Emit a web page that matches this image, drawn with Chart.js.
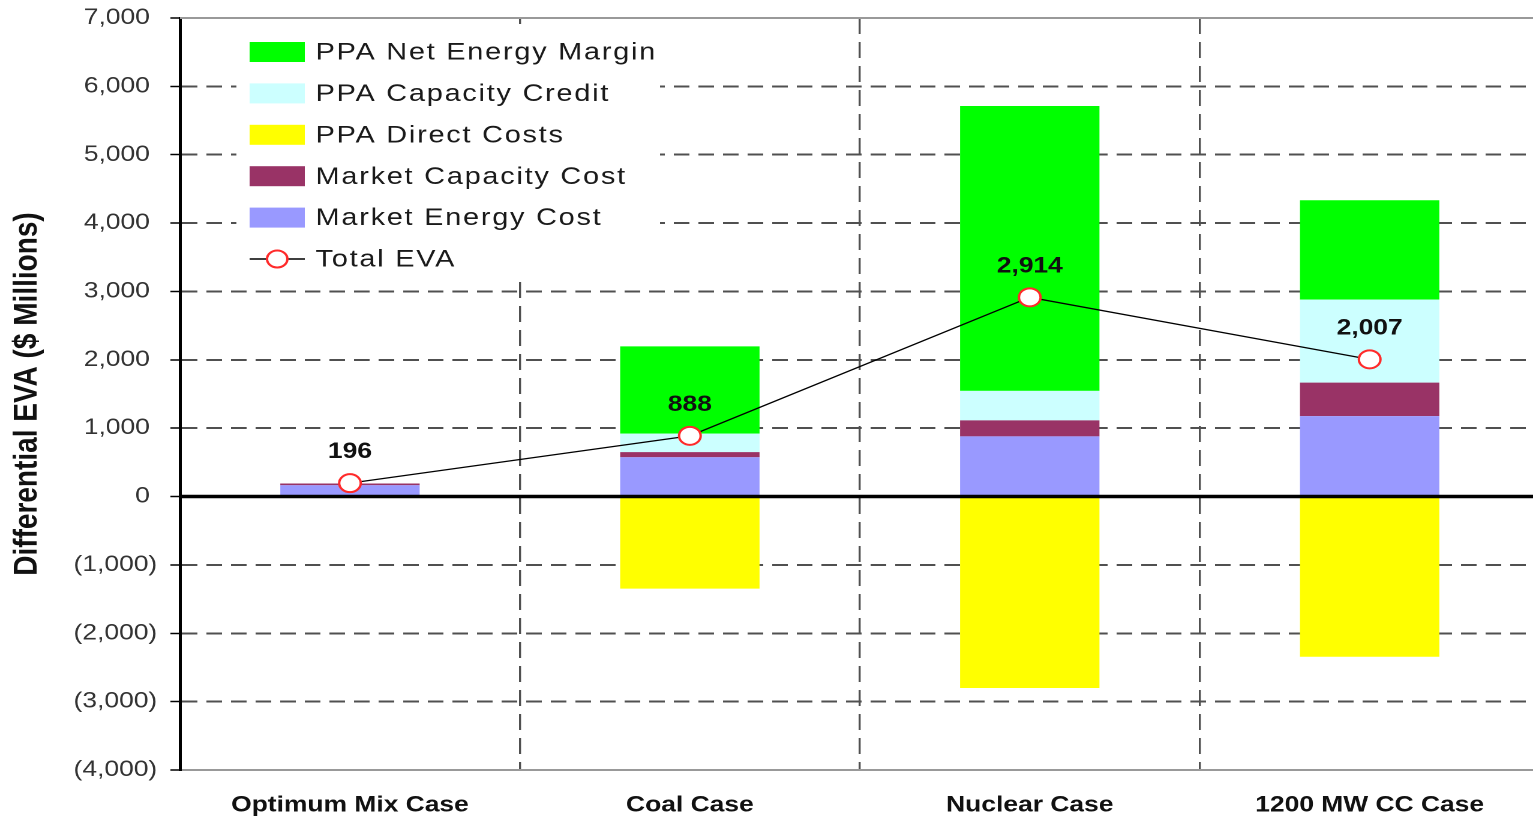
<!DOCTYPE html>
<html>
<head>
<meta charset="utf-8">
<script src="https://cdn.jsdelivr.net/npm/chart.js@4.4.1/dist/chart.umd.min.js"></script>
<style>
    html, body { margin: 0; padding: 0; background: #fff; overflow: hidden; }
    #wrap { width: 1288px; height: 816px; transform: scaleX(1.2); transform-origin: 0 0; }
</style>
</head>
<body>
<div id="wrap"><canvas id="evaChart" width="1288" height="816"></canvas></div>
<script>
const categories = ["Optimum Mix Case", "Coal Case", "Nuclear Case", "1200 MW CC Case"];
const marketEnergyCost = [165, 575, 880, 1176];
const marketCapacityCost = [25, 75, 235, 490];
const ppaCapacityCredit = [0, 270, 430, 1215];
const ppaNetEnergyMargin = [0, 1276, 4168, 1454];
const ppaDirectCosts = [0, -1347, -2800, -2343];
const totalEva = [196, 888, 2914, 2007];

// legend rows top to bottom, as dataset indexes
const legendOrder = [3, 2, 4, 1, 0, 5];

function fmt(v) {
    const s = Math.abs(v).toLocaleString("en-US");
    return v < 0 ? "(" + s + ")" : s + " ";
}

const extras = {
    id: "extras",
    afterDatasetsDraw(chart) {
        const ctx = chart.ctx;
        const area = chart.chartArea;
        const y = chart.scales.y;
        ctx.save();
        // solid frame top
        ctx.strokeStyle = "#999";
        ctx.lineWidth = 2;
        ctx.beginPath();
        ctx.moveTo(area.left, area.top);
        ctx.lineTo(area.right, area.top);
        ctx.stroke();
        // zero line
        const y0 = y.getPixelForValue(0);
        ctx.strokeStyle = "#000";
        ctx.lineWidth = 3.5;
        ctx.beginPath();
        ctx.moveTo(area.left, y0);
        ctx.lineTo(area.right, y0);
        ctx.stroke();
        // EVA value labels
        const meta = chart.getDatasetMeta(5);
        ctx.fillStyle = "#111";
        ctx.font = "bold 22px 'Liberation Sans', Arial, sans-serif";
        ctx.textAlign = "center";
        ctx.textBaseline = "middle";
        meta.data.forEach(function (pt, i) {
            ctx.fillText(totalEva[i].toLocaleString("en-US"), pt.x, pt.y - 31);
        });
        ctx.restore();
    },
    afterDraw(chart) {
        const ctx = chart.ctx;
        ctx.save();
        ctx.fillStyle = "#fff";
        ctx.fillRect(197, 24, 353, 258);
        ctx.font = "24px 'Liberation Sans', Arial, sans-serif";
        ctx.letterSpacing = "1.5px";
        ctx.textBaseline = "middle";
        legendOrder.forEach(function (idx, row) {
            const ds = chart.data.datasets[idx];
            const cy = 52 + row * 41.4;
            if (ds.type === "line") {
                ctx.strokeStyle = "#000";
                ctx.lineWidth = 1.5;
                ctx.beginPath();
                ctx.moveTo(208, cy);
                ctx.lineTo(254, cy);
                ctx.stroke();
                ctx.fillStyle = "#fff";
                ctx.strokeStyle = "#ff2a2a";
                ctx.lineWidth = 2;
                ctx.beginPath();
                ctx.arc(231, cy, 8.5, 0, Math.PI * 2);
                ctx.fill();
                ctx.stroke();
            } else {
                ctx.fillStyle = ds.backgroundColor;
                ctx.fillRect(208, cy - 10, 46, 20);
            }
            ctx.fillStyle = "#1a1a1a";
            ctx.fillText(ds.label, 263, cy + 1);
        });
        ctx.letterSpacing = "0px";
        ctx.restore();
    }
};

const ctx = document.getElementById("evaChart").getContext("2d");

new Chart(ctx, {
    type: "bar",
    data: {
        labels: categories,
        datasets: [
            { label: "Market Energy Cost", data: marketEnergyCost, backgroundColor: "#9999ff", stack: "s", order: 1 },
            { label: "Market Capacity Cost", data: marketCapacityCost, backgroundColor: "#993366", stack: "s", order: 1 },
            { label: "PPA Capacity Credit", data: ppaCapacityCredit, backgroundColor: "#ccffff", stack: "s", order: 1 },
            { label: "PPA Net Energy Margin", data: ppaNetEnergyMargin, backgroundColor: "#00ff00", stack: "s", order: 1 },
            { label: "PPA Direct Costs", data: ppaDirectCosts, backgroundColor: "#ffff00", stack: "s", order: 1 },
            {
                type: "line",
                label: "Total EVA",
                data: totalEva,
                stack: "eva",
                order: 0,
                borderColor: "#000",
                borderWidth: 1.3,
                pointRadius: 9,
                pointBackgroundColor: "#fff",
                pointBorderColor: "#ff2a2a",
                pointBorderWidth: 2
            }
        ]
    },
    options: {
        responsive: false,
        animation: false,
        devicePixelRatio: 2,
        barPercentage: 0.41,
        categoryPercentage: 1,
        layout: { autoPadding: false, padding: { top: 18, right: 5, left: 0, bottom: 0 } },
        plugins: {
            legend: { display: false },
            tooltip: { enabled: false }
        },
        scales: {
            x: {
                stacked: true,
                afterFit: function (scale) { scale.height = 46; },
                grid: { color: "#505050", lineWidth: 1.7, drawTicks: false, offset: true },
                border: { display: true, color: "#999", width: 2, dash: [16, 8] },
                ticks: {
                    color: "#111",
                    padding: 22,
                    maxRotation: 0,
                    autoSkip: false,
                    font: { family: "'Liberation Sans', Arial, sans-serif", size: 22, weight: "bold" }
                }
            },
            y: {
                stacked: true,
                min: -4000,
                max: 7000,
                afterFit: function (scale) {
                    scale.width = 150;
                    scale.paddingTop = 0;
                    scale.paddingBottom = 0;
                },
                grid: { color: "#505050", lineWidth: 2, drawTicks: true, tickLength: 8, tickColor: "#000", tickWidth: 1.5, tickBorderDash: [] },
                border: { display: true, color: "#000", width: 2.5, dash: [13, 7.5] },
                ticks: {
                    stepSize: 1000,
                    color: "#333",
                    padding: 11,
                    font: { family: "'Liberation Sans', Arial, sans-serif", size: 22 },
                    callback: function (v) { return fmt(v); }
                },
                title: {
                    display: true,
                    text: "Differential EVA ($ Millions)",
                    color: "#111",
                    padding: { top: 6, bottom: 0 },
                    font: { family: "'Liberation Sans', Arial, sans-serif", size: 28, weight: "bold" }
                }
            }
        }
    },
    plugins: [extras]
});
</script>
</body>
</html>
